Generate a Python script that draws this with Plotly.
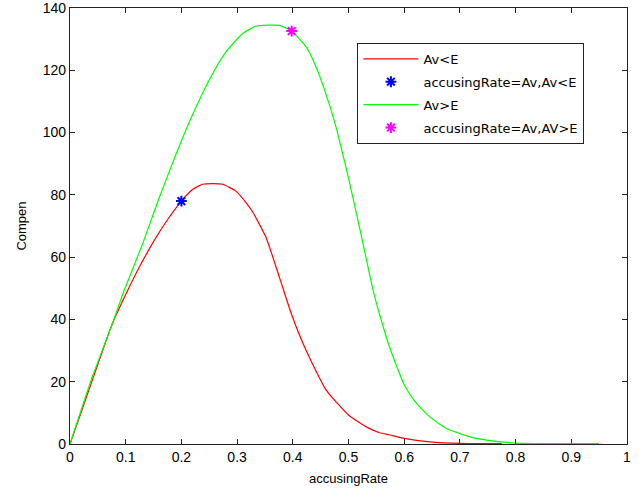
import plotly.graph_objects as go

# Av<E curve
red_x = [0, 0.02, 0.04, 0.076, 0.1, 0.125, 0.15, 0.175, 0.2, 0.22, 0.238, 0.256, 0.274,
         0.298, 0.316, 0.328, 0.352, 0.376, 0.397, 0.424, 0.46, 0.5, 0.532, 0.556, 0.574,
         0.6, 0.646, 0.7, 0.775]
red_y = [0, 10.2, 20.5, 38.6, 48.0, 57.0, 65.0, 72.0, 78.0, 81.7, 83.4, 83.6, 83.4,
         81.2, 77.5, 74.5, 66.3, 53.5, 42.0, 30.0, 17.3, 9.3, 5.5, 3.6, 2.9,
         1.8, 0.7, 0.2, 0.1]

# Av>E curve
green_x = [0, 0.04, 0.076, 0.097, 0.13, 0.16, 0.19, 0.22, 0.25, 0.28, 0.31, 0.334, 0.355,
           0.376, 0.398, 0.424, 0.442, 0.46, 0.478, 0.487, 0.496, 0.52, 0.544, 0.556, 0.574,
           0.6, 0.62, 0.646, 0.676, 0.718, 0.754, 0.8, 0.95]
green_y = [0, 21.5, 38.6, 49.2, 64.1, 79.0, 92.9, 105.7, 116.9, 125.9, 131.8, 134.2, 134.5,
           134.4, 132.6, 127.5, 121.0, 112.1, 101.5, 95.0, 88.5, 69.4, 49.5, 41.5, 31.0,
           19.0, 13.5, 8.7, 5.0, 2.3, 1.1, 0.3, 0.1]

# marked points
blue_pt_x = [0.2]
blue_pt_y = [78.0]
mag_pt_x = [0.398]
mag_pt_y = [132.6]

names = ["Av<E", "accusingRate=Av,Av<E", "Av>E", "accusingRate=Av,AV>E"]

font_family = "Liberation Sans, Arial, sans-serif"

fig = go.Figure()
fig.add_trace(go.Scatter(x=red_x, y=red_y, mode="lines", name=names[0], legendgroup="a",
                         line=dict(color="rgb(255,0,0)", width=1.2, shape="spline", smoothing=0.5)))
fig.add_trace(go.Scatter(x=blue_pt_x, y=blue_pt_y, mode="markers", name=names[1], legendgroup="b",
                         marker=dict(symbol="asterisk-open", size=9, color="rgb(0,0,255)",
                                     line=dict(color="rgb(0,0,255)", width=2))))
fig.add_trace(go.Scatter(x=green_x, y=green_y, mode="lines", name=names[2], legendgroup="c",
                         line=dict(color="rgb(0,255,0)", width=1.2, shape="spline", smoothing=0.5)))
fig.add_trace(go.Scatter(x=mag_pt_x, y=mag_pt_y, mode="markers", name=names[3], legendgroup="d",
                         marker=dict(symbol="asterisk-open", size=9, color="rgb(255,0,255)",
                                     line=dict(color="rgb(255,0,255)", width=2))))

axis_common = dict(showline=True, linecolor="#222", linewidth=1.2, mirror="ticks",
                   ticks="inside", ticklen=5, tickcolor="#222", showgrid=False, zeroline=False,
                   automargin=False, ticklabeloverflow="allow",
                   tickfont=dict(size=14, color="black", family=font_family))

fig.update_layout(
    width=642, height=494,
    margin=dict(l=70, r=15, t=8, b=50),
    paper_bgcolor="white", plot_bgcolor="white",
    font=dict(family=font_family, size=13, color="black"),
    xaxis=dict(range=[0, 1], dtick=0.1, tick0=0,
               title=dict(text="accusingRate", font=dict(size=13), standoff=9), **axis_common),
    yaxis=dict(range=[0, 140], dtick=20, tick0=0,
               title=dict(text="Compen", font=dict(size=13), standoff=13), **axis_common),
    legend=dict(x=0.516, y=0.92, xanchor="left", yanchor="top",
                bordercolor="#222", borderwidth=1, bgcolor="white",
                font=dict(size=13, family="DejaVu Sans, sans-serif"), itemwidth=55,
                tracegroupgap=3, traceorder="grouped"),
    showlegend=True,
)

fig.write_html("out.html", config={"displayModeBar": False},
               post_script="document.body.style.margin='0';document.body.style.padding='0';")
